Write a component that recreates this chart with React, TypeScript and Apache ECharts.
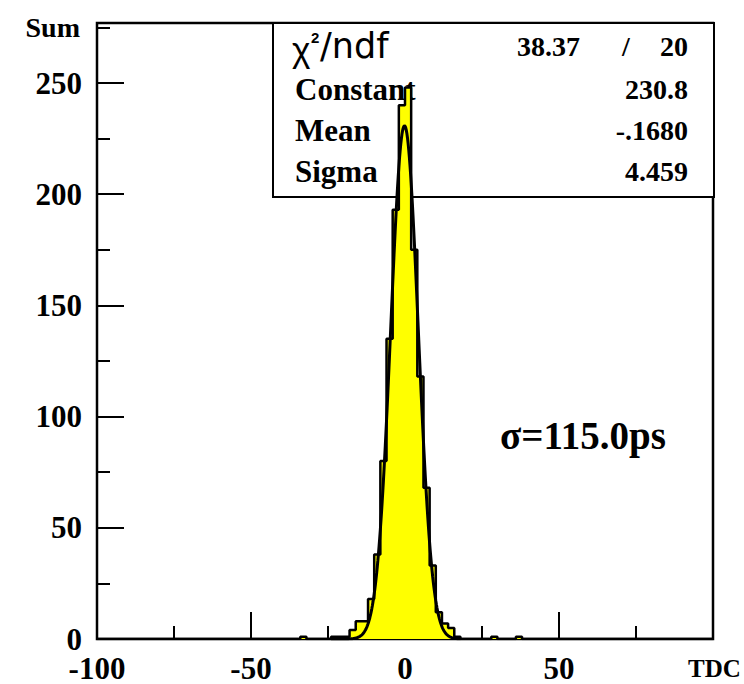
import React, { useEffect, useRef } from "react";
import * as echarts from "echarts";

// ---- Histogram data (bin width 2, range -100..100) ----
const binWidth = 2;
const xMin = -100;
const xMax = 100;
const yMax = 277;
const binLowEdges = [-34, -24, -22, -20, -18, -16, -14, -12, -10, -8, -6, -4, -2, 0, 2, 4, 6, 8, 10, 12, 14, 16, 28, 36];
const binCounts = [1, 1, 1, 1, 4, 8, 8, 18, 38, 80, 135, 193, 240, 248, 175, 118, 68, 33, 12, 7, 5, 1, 1, 1];

// ---- Gaussian fit parameters (as printed in the stats box) ----
const fitConstant = 230.8;
const fitMean = -0.168;
const fitSigma = 4.459;
const fitRange = [-24, 18];

// ---- Stats box texts ----
const chi2Value = "38.37";
const ndfValue = "20";
const statLabels = ["Constant", "Mean", "Sigma"];
const statValues = ["230.8", "-.1680", "4.459"];
const resolutionText = "\u03c3=115.0ps";

const serif = "Liberation Serif";

function buildHistogram(): number[][] {
  const map: Record<number, number> = {};
  binLowEdges.forEach((e, i) => (map[e] = binCounts[i]));
  const pts: number[][] = [];
  for (let e = xMin; e < xMax; e += binWidth) pts.push([e, map[e] ?? 0]);
  pts.push([xMax, 0]);
  return pts;
}

function buildFit(): number[][] {
  const pts: number[][] = [];
  for (let x = fitRange[0]; x <= fitRange[1] + 1e-9; x += 0.2) {
    const d = (x - fitMean) / fitSigma;
    pts.push([x, fitConstant * Math.exp(-0.5 * d * d)]);
  }
  return pts;
}

export default function App() {
  const ref = useRef<HTMLDivElement>(null);
  useEffect(() => {
    if (!ref.current) return;
    const chart = echarts.init(ref.current, null, { renderer: "svg" });
    const tickStyle = { color: "#000", width: 2 };
    const boxLeft = 273, boxTop = 23, boxRight = 714, boxBottom = 197;
    const rowY = [46, 89, 130, 171];
    const valueRight = 688;
    const graphics: any[] = [
      {
        type: "rect", z: 0,
        shape: { x: boxLeft, y: boxTop, width: boxRight - boxLeft, height: boxBottom - boxTop },
        style: { fill: "#fff", stroke: "#000", lineWidth: 2 },
      },
      { type: "text", z: 1, x: 292, y: rowY[0] + 3, style: { text: "\u03c7", font: "35px 'Liberation Sans'", fill: "#000", align: "left", verticalAlign: "middle" } },
      { type: "text", z: 1, x: 311, y: rowY[0] - 9, style: { text: "2", font: "bold 15px 'Liberation Sans'", fill: "#000", align: "left", verticalAlign: "middle" } },
      { type: "text", z: 1, x: 320, y: rowY[0], style: { text: "/ndf", font: "35px 'DejaVu Sans'", fill: "#000", align: "left", verticalAlign: "middle" } },
      { type: "text", z: 1, x: 580, y: rowY[0], style: { text: chi2Value, font: `bold 28px '${serif}'`, fill: "#000", align: "right", verticalAlign: "middle" } },
      { type: "text", z: 1, x: 626, y: rowY[0], style: { text: "/", font: `bold 28px '${serif}'`, fill: "#000", align: "center", verticalAlign: "middle" } },
      { type: "text", z: 1, x: valueRight, y: rowY[0], style: { text: ndfValue, font: `bold 28px '${serif}'`, fill: "#000", align: "right", verticalAlign: "middle" } },
      { type: "text", z: 1, x: 500, y: 435, style: { text: resolutionText, font: `bold 39px '${serif}'`, fill: "#000", align: "left", verticalAlign: "middle" } },
    ];
    statLabels.forEach((lab, i) => {
      graphics.push({ type: "text", z: 1, x: 295, y: rowY[i + 1], style: { text: lab, font: `bold 31px '${serif}'`, fill: "#000", align: "left", verticalAlign: "middle" } });
      graphics.push({ type: "text", z: 1, x: valueRight, y: rowY[i + 1], style: { text: statValues[i], font: `bold 28px '${serif}'`, fill: "#000", align: "right", verticalAlign: "middle" } });
    });

    const option: any = {
      animation: false,
      backgroundColor: "#fff",
      grid: { left: 97, right: 31, top: 23, bottom: 45, show: true, borderColor: "#000", borderWidth: 2.5, backgroundColor: "transparent", outerBoundsMode: "none" },
      xAxis: [
        {
          type: "value", min: xMin, max: xMax, interval: 50, position: "bottom",
          name: "TDC", nameLocation: "end", nameGap: -25, nameMoveOverlap: false,
          nameTextStyle: { fontFamily: serif, fontWeight: "bold", fontSize: 25, color: "#000", align: "left", verticalAlign: "top", padding: [17, 0, 0, 0] },
          axisLine: { show: true, onZero: false, lineStyle: tickStyle },
          axisTick: { show: true, inside: true, length: 27, lineStyle: tickStyle },
          axisLabel: { margin: 18, showMaxLabel: false, lineHeight: 22, fontFamily: serif, fontWeight: "bold", fontSize: 31, color: "#000" },
          splitLine: { show: false },
        },
        {
          type: "value", min: xMin, max: xMax, interval: 25, position: "bottom",
          axisLine: { show: false, onZero: false }, axisTick: { show: true, inside: true, length: 13, lineStyle: tickStyle },
          axisLabel: { show: false }, splitLine: { show: false },
        },
      ],
      yAxis: [
        {
          type: "value", min: 0, max: yMax, interval: 50, position: "left",
          name: "Sum", nameLocation: "end", nameGap: -4, nameMoveOverlap: false,
          nameTextStyle: { fontFamily: serif, fontWeight: "bold", fontSize: 28, color: "#000", align: "right", verticalAlign: "middle", padding: [0, 17, 0, 0] },
          axisLine: { show: true, onZero: false, lineStyle: tickStyle },
          axisTick: { show: true, inside: true, length: 27, lineStyle: tickStyle },
          axisLabel: { margin: 15, showMaxLabel: false, lineHeight: 22, fontFamily: serif, fontWeight: "bold", fontSize: 31, color: "#000" },
          splitLine: { show: false },
        },
        {
          type: "value", min: 0, max: yMax, interval: 25, position: "left",
          axisLine: { show: false, onZero: false }, axisTick: { show: true, inside: true, length: 13, lineStyle: tickStyle },
          axisLabel: { show: false }, splitLine: { show: false },
        },
      ],
      graphic: graphics,
      series: [
        {
          type: "line", name: "histogram", step: "end", data: buildHistogram(),
          xAxisIndex: 0, yAxisIndex: 0, symbol: "none", z: 5,
          lineStyle: { color: "#000", width: 2.5 },
          areaStyle: { color: "#ffff00", opacity: 1 },
        },
        {
          type: "line", name: "fit", data: buildFit(), xAxisIndex: 0, yAxisIndex: 0,
          symbol: "none", z: 6, lineStyle: { color: "#000", width: 3 },
        },
      ],
    };
    chart.setOption(option);
    return () => chart.dispose();
  }, []);
  return <div ref={ref} style={{ position: "absolute", left: 0, top: 0, width: 744, height: 684 }} />;
}
